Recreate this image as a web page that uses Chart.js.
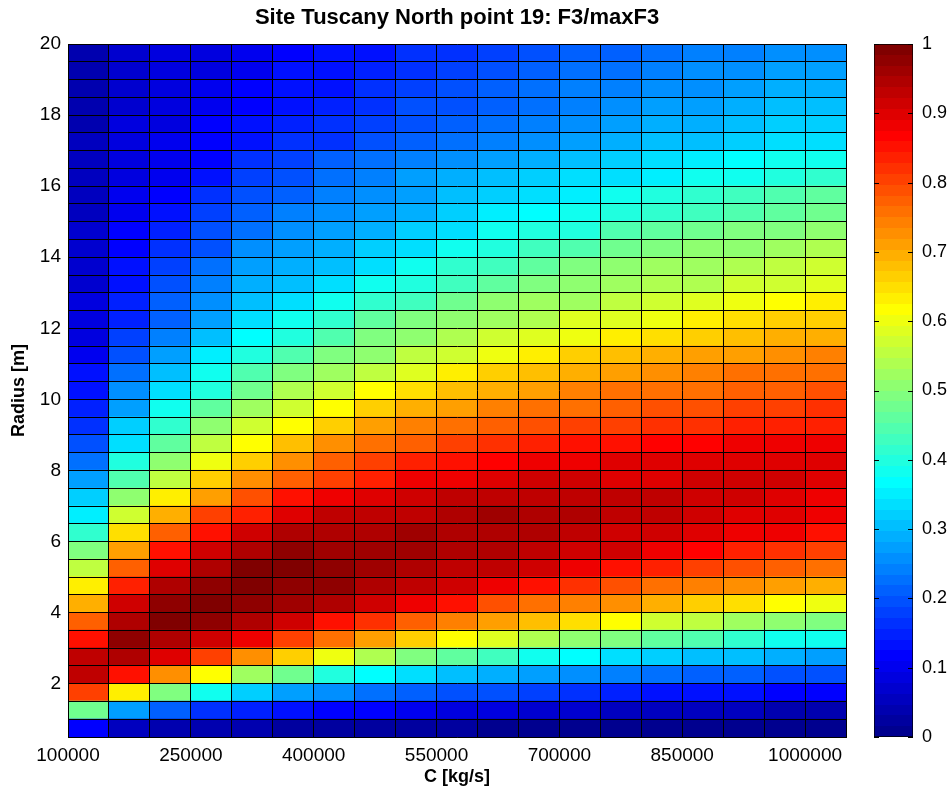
<!DOCTYPE html>
<html>
<head>
<meta charset="utf-8">
<script src="https://cdn.jsdelivr.net/npm/chart.js@4/dist/chart.umd.min.js"></script>
<style>
html,body{margin:0;padding:0;background:#ffffff;}
#wrap{position:relative;width:948px;height:791px;background:#ffffff;}
#wrap canvas{position:absolute;left:0;top:0;}
</style>
</head>
<body>
<div id="wrap">
<canvas id="main" width="948" height="791"></canvas>
<canvas id="cbar" width="948" height="791"></canvas>
</div>
<script>
// ---- data ----
const titleText = 'Site Tuscany North point 19: F3/maxF3';
const xTitle = 'C [kg/s]';
const yTitle = 'Radius [m]';
// lower edges of the C bins (kg/s), bin width 50000
const cBins = [100000,150000,200000,250000,300000,350000,400000,450000,500000,550000,600000,650000,700000,750000,800000,850000,900000,950000,1000000];
const cBinWidth = 50000;
// lower edges of the radius bins (m), bin height 0.5
const radiusBins = [0.5,1,1.5,2,2.5,3,3.5,4,4.5,5,5.5,6,6.5,7,7.5,8,8.5,9,9.5,10,10.5,11,11.5,12,12.5,13,13.5,14,14.5,15,15.5,16,16.5,17,17.5,18,18.5,19,19.5];
const radiusBinHeight = 0.5;
const xTickLabels = [100000,250000,400000,550000,700000,850000,1000000];
const yTickLabels = [2,4,6,8,10,12,14,16,18,20];
const colorbarTicks = [0,0.1,0.2,0.3,0.4,0.5,0.6,0.7,0.8,0.9,1];
const colorLimits = [0, 1];

// F3/maxF3, one row per radius bin (bottom row first), one value per C bin
const f3Rows = [
/* 0.5 */ [0.12,0.05,0.045,0.04,0.035,0.03,0.03,0.025,0.02,0.02,0.015,0.015,0.01,0.01,0.01,0.005,0.005,0.005,0.005],
/* 1.0 */ [0.475,0.28,0.21,0.17,0.145,0.135,0.12,0.11,0.1,0.09,0.085,0.075,0.07,0.06,0.055,0.05,0.05,0.045,0.04],
/* 1.5 */ [0.81,0.63,0.485,0.375,0.32,0.28,0.25,0.23,0.215,0.2,0.19,0.175,0.165,0.15,0.14,0.135,0.13,0.12,0.115],
/* 2.0 */ [0.93,0.85,0.72,0.615,0.53,0.475,0.4,0.36,0.335,0.31,0.29,0.27,0.25,0.235,0.225,0.215,0.205,0.195,0.19],
/* 2.5 */ [0.93,0.94,0.895,0.8,0.72,0.66,0.6,0.535,0.495,0.455,0.425,0.385,0.36,0.335,0.32,0.31,0.3,0.285,0.27],
/* 3.0 */ [0.85,0.98,0.95,0.92,0.875,0.81,0.75,0.705,0.665,0.61,0.58,0.535,0.505,0.495,0.465,0.445,0.41,0.39,0.375],
/* 3.5 */ [0.77,0.95,1.0,0.98,0.95,0.91,0.855,0.815,0.78,0.74,0.705,0.675,0.645,0.61,0.57,0.55,0.53,0.505,0.495],
/* 4.0 */ [0.7,0.91,0.97,1.0,0.98,0.965,0.94,0.915,0.875,0.845,0.795,0.765,0.735,0.72,0.69,0.67,0.645,0.61,0.595],
/* 4.5 */ [0.625,0.835,0.94,0.98,1.0,0.98,0.97,0.95,0.925,0.91,0.875,0.845,0.815,0.795,0.76,0.745,0.725,0.705,0.695],
/* 5.0 */ [0.56,0.78,0.895,0.95,0.985,0.99,0.98,0.965,0.95,0.935,0.925,0.91,0.875,0.855,0.83,0.805,0.795,0.77,0.755],
/* 5.5 */ [0.485,0.715,0.845,0.91,0.95,0.97,0.965,0.965,0.965,0.95,0.95,0.935,0.92,0.91,0.875,0.86,0.84,0.825,0.81],
/* 6.0 */ [0.415,0.65,0.78,0.855,0.91,0.94,0.95,0.95,0.965,0.95,0.95,0.94,0.935,0.92,0.91,0.9,0.875,0.875,0.855],
/* 6.5 */ [0.35,0.57,0.7,0.8,0.835,0.9,0.93,0.935,0.935,0.95,0.955,0.94,0.94,0.935,0.925,0.91,0.905,0.895,0.875],
/* 7.0 */ [0.32,0.505,0.625,0.715,0.795,0.845,0.875,0.905,0.92,0.93,0.93,0.93,0.925,0.925,0.925,0.92,0.91,0.905,0.89],
/* 7.5 */ [0.27,0.445,0.56,0.66,0.73,0.78,0.805,0.84,0.875,0.89,0.895,0.91,0.915,0.905,0.905,0.915,0.915,0.91,0.9],
/* 8.0 */ [0.23,0.405,0.505,0.6,0.67,0.72,0.77,0.8,0.835,0.85,0.86,0.875,0.885,0.895,0.895,0.9,0.9,0.9,0.895],
/* 8.5 */ [0.2,0.34,0.455,0.55,0.61,0.675,0.72,0.755,0.78,0.8,0.815,0.835,0.845,0.855,0.86,0.86,0.875,0.875,0.875],
/* 9.0 */ [0.17,0.32,0.415,0.505,0.565,0.61,0.665,0.71,0.74,0.755,0.78,0.795,0.81,0.81,0.82,0.825,0.835,0.835,0.835],
/* 9.5 */ [0.155,0.28,0.375,0.455,0.52,0.57,0.61,0.665,0.695,0.71,0.735,0.75,0.765,0.78,0.785,0.795,0.81,0.81,0.82],
/* 10.0 */ [0.135,0.25,0.34,0.405,0.475,0.535,0.565,0.61,0.655,0.675,0.69,0.715,0.735,0.75,0.755,0.765,0.78,0.78,0.79],
/* 10.5 */ [0.125,0.22,0.3,0.375,0.445,0.49,0.53,0.56,0.59,0.625,0.66,0.675,0.695,0.71,0.725,0.74,0.75,0.75,0.765],
/* 11.0 */ [0.105,0.2,0.28,0.345,0.395,0.44,0.485,0.51,0.555,0.575,0.605,0.625,0.66,0.68,0.695,0.705,0.71,0.72,0.735],
/* 11.5 */ [0.09,0.175,0.24,0.31,0.36,0.405,0.445,0.485,0.51,0.545,0.565,0.59,0.605,0.625,0.655,0.67,0.68,0.695,0.7],
/* 12.0 */ [0.085,0.15,0.215,0.275,0.33,0.375,0.41,0.455,0.485,0.505,0.53,0.545,0.58,0.59,0.605,0.625,0.645,0.66,0.66],
/* 12.5 */ [0.08,0.145,0.205,0.25,0.3,0.34,0.375,0.415,0.43,0.47,0.505,0.52,0.53,0.555,0.575,0.59,0.605,0.61,0.625],
/* 13.0 */ [0.075,0.135,0.19,0.235,0.285,0.31,0.33,0.375,0.405,0.435,0.455,0.495,0.5,0.52,0.535,0.545,0.565,0.575,0.59],
/* 13.5 */ [0.075,0.125,0.18,0.22,0.27,0.29,0.31,0.34,0.375,0.415,0.435,0.465,0.485,0.5,0.52,0.53,0.54,0.555,0.57],
/* 14.0 */ [0.07,0.12,0.165,0.2,0.25,0.27,0.29,0.32,0.34,0.375,0.405,0.425,0.445,0.47,0.485,0.5,0.51,0.525,0.54],
/* 14.5 */ [0.065,0.11,0.15,0.19,0.23,0.25,0.27,0.29,0.32,0.34,0.375,0.395,0.405,0.44,0.455,0.47,0.485,0.495,0.505],
/* 15.0 */ [0.06,0.105,0.13,0.18,0.21,0.235,0.25,0.27,0.295,0.325,0.345,0.36,0.375,0.395,0.415,0.43,0.445,0.46,0.47],
/* 15.5 */ [0.055,0.095,0.12,0.165,0.195,0.215,0.24,0.26,0.28,0.3,0.315,0.335,0.35,0.375,0.4,0.42,0.435,0.445,0.455],
/* 16.0 */ [0.055,0.09,0.105,0.14,0.175,0.195,0.23,0.245,0.27,0.285,0.305,0.315,0.33,0.34,0.355,0.375,0.39,0.4,0.41],
/* 16.5 */ [0.05,0.085,0.1,0.12,0.16,0.18,0.21,0.23,0.245,0.265,0.28,0.29,0.305,0.32,0.33,0.345,0.36,0.375,0.385],
/* 17.0 */ [0.05,0.08,0.095,0.115,0.135,0.16,0.17,0.19,0.21,0.225,0.24,0.255,0.27,0.285,0.3,0.31,0.32,0.33,0.34],
/* 17.5 */ [0.045,0.08,0.09,0.11,0.125,0.15,0.16,0.18,0.2,0.215,0.23,0.245,0.26,0.27,0.285,0.295,0.305,0.315,0.325],
/* 18.0 */ [0.045,0.075,0.09,0.1,0.12,0.14,0.15,0.17,0.19,0.2,0.215,0.23,0.245,0.26,0.27,0.28,0.29,0.3,0.31],
/* 18.5 */ [0.04,0.07,0.085,0.095,0.11,0.13,0.14,0.16,0.175,0.19,0.205,0.22,0.235,0.245,0.255,0.265,0.275,0.285,0.295],
/* 19.0 */ [0.04,0.07,0.08,0.09,0.1,0.125,0.14,0.15,0.17,0.18,0.19,0.205,0.22,0.23,0.24,0.25,0.26,0.27,0.28],
/* 19.5 */ [0.04,0.07,0.08,0.09,0.1,0.115,0.13,0.14,0.16,0.17,0.18,0.19,0.21,0.215,0.225,0.235,0.245,0.255,0.265]
];

// ---- MATLAB jet(64) colormap ----
function jetMap(n) {
  const m = Math.ceil(n / 4);
  const u = [];
  for (let i = 1; i <= m; i++) u.push(i / m);
  for (let i = 0; i < m - 1; i++) u.push(1);
  for (let i = m; i >= 1; i--) u.push(i / m);
  const off = Math.ceil(m / 2) - (n % 4 === 1 ? 1 : 0);
  const J = Array.from({length: n}, () => [0, 0, 0]);
  for (let k = 0; k < u.length; k++) {
    const g = off + k + 1, r = g + m, b = g - m;
    if (r >= 1 && r <= n) J[r - 1][0] = u[k];
    if (g >= 1 && g <= n) J[g - 1][1] = u[k];
    if (b >= 1 && b <= n) J[b - 1][2] = u[k];
  }
  return J.map(c => 'rgb(' + c.map(v => Math.round(v * 255)).join(',') + ')');
}
const JET = jetMap(64);
function colorFor(v) {
  const t = (v - colorLimits[0]) / (colorLimits[1] - colorLimits[0]);
  const idx = Math.max(0, Math.min(JET.length - 1, Math.floor(t * JET.length)));
  return JET[idx];
}

const FONT = "'Liberation Sans', Arial, Helvetica, sans-serif";
Chart.defaults.font.family = FONT;
Chart.defaults.color = '#000';

// ---- main heat map ----
const datasets = radiusBins.map((r, i) => ({
  label: 'R ' + r,
  data: cBins.map(c => ({x: c + cBinWidth / 2, y: [r, r + radiusBinHeight]})),
  backgroundColor: f3Rows[i].map(colorFor),
  borderWidth: 0,
  grouped: false,
  barPercentage: 1,
  categoryPercentage: 1,
  inflateAmount: 0.6
}));

new Chart(document.getElementById('main'), {
  type: 'bar',
  data: {datasets},
  options: {
    responsive: false,
    devicePixelRatio: 1,
    animation: false,
    events: [],
    layout: {padding: {left: 0, right: 102, top: 0, bottom: 0}},
    plugins: {
      legend: {display: false},
      tooltip: {enabled: false},
      title: {
        display: true,
        fullSize: false,
        text: titleText,
        color: '#000',
        font: {size: 22, weight: 'bold', family: FONT, lineHeight: 1.2},
        padding: {top: 5, bottom: 12.6}
      }
    },
    scales: {
      x: {
        type: 'linear',
        min: cBins[0],
        max: cBins[cBins.length - 1] + cBinWidth,
        offset: false,
        grid: {color: '#000', lineWidth: 1, drawTicks: false, offset: false, z: 1},
        border: {display: true, color: '#000', width: 1, z: 1},
        ticks: {
          stepSize: cBinWidth,
          autoSkip: false,
          maxRotation: 0,
          padding: 7,
          color: '#000',
          font: {size: 19, family: FONT},
          callback: v => xTickLabels.includes(v) ? String(v) : ''
        },
        title: {
          display: true,
          text: xTitle,
          color: '#000',
          font: {size: 18, weight: 'bold', family: FONT, lineHeight: 1.2},
          padding: {top: 0, bottom: 3}
        },
        afterFit: s => { s.height = 54; }
      },
      y: {
        type: 'linear',
        min: radiusBins[0],
        max: radiusBins[radiusBins.length - 1] + radiusBinHeight,
        grid: {color: '#000', lineWidth: 1, drawTicks: false, z: 1},
        border: {display: true, color: '#000', width: 1, z: 1},
        ticks: {
          stepSize: radiusBinHeight,
          autoSkip: false,
          padding: 7,
          color: '#000',
          font: {size: 19, family: FONT},
          callback: v => yTickLabels.includes(v) ? String(v) : ''
        },
        title: {
          display: true,
          text: yTitle,
          color: '#000',
          font: {size: 18, weight: 'bold', family: FONT, lineHeight: 1.2},
          padding: {top: 8, bottom: 0}
        },
        afterFit: s => { s.width = 68; }
      }
    }
  }
});

// ---- colour bar ----
const cbTicksPlugin = {
  id: 'cbTicks',
  afterDraw(chart) {
    const s = chart.scales.y, a = chart.chartArea, ctx = chart.ctx;
    ctx.save();
    ctx.strokeStyle = '#000';
    ctx.lineWidth = 1;
    ctx.beginPath();
    colorbarTicks.forEach(v => {
      const y = Math.round(s.getPixelForValue(v)) + 0.5;
      ctx.moveTo(a.left, y); ctx.lineTo(a.left + 5, y);
      ctx.moveTo(a.right - 5, y); ctx.lineTo(a.right, y);
    });
    ctx.stroke();
    ctx.restore();
  }
};

new Chart(document.getElementById('cbar'), {
  type: 'bar',
  data: {
    labels: ['F3/maxF3'],
    datasets: [{
      data: [[colorLimits[0], colorLimits[1]]],
      backgroundColor: (ctx) => {
        const area = ctx.chart.chartArea;
        if (!area) return JET[32];
        const g = ctx.chart.ctx.createLinearGradient(0, area.bottom, 0, area.top);
        JET.forEach((c, k) => {
          g.addColorStop(k / JET.length, c);
          g.addColorStop((k + 1) / JET.length, c);
        });
        return g;
      },
      borderColor: '#000',
      borderWidth: 1,
      borderSkipped: false,
      barPercentage: 1,
      categoryPercentage: 1
    }]
  },
  options: {
    responsive: false,
    devicePixelRatio: 1,
    animation: false,
    events: [],
    layout: {padding: {left: 874, right: 0, top: 44, bottom: 54}},
    plugins: {legend: {display: false}, tooltip: {enabled: false}, title: {display: false}},
    scales: {
      x: {display: false},
      y: {
        position: 'right',
        min: colorLimits[0],
        max: colorLimits[1],
        grid: {display: false, drawTicks: false},
        border: {display: false},
        ticks: {
          stepSize: 0.1,
          padding: 9,
          color: '#000',
          font: {size: 18, family: FONT},
          callback: v => {
            const t = colorbarTicks.find(x => Math.abs(x - v) < 1e-9);
            return t === undefined ? '' : String(t);
          }
        },
        afterFit: s => { s.width = 35; }
      }
    }
  },
  plugins: [cbTicksPlugin]
});
</script>
</body>
</html>
